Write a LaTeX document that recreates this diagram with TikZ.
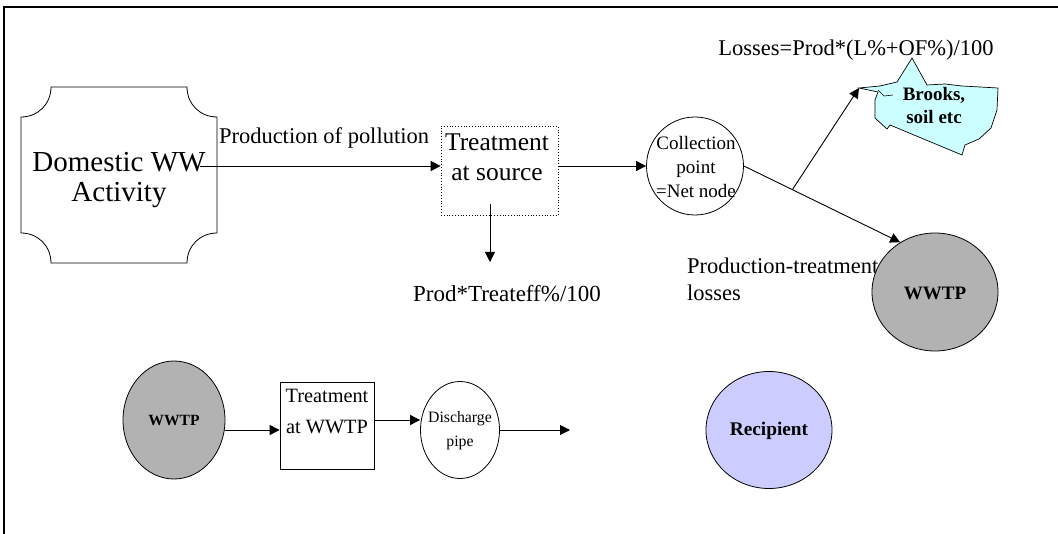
\documentclass[tikz,border=0pt]{standalone}
\usepackage{fontspec}
\setmainfont{Liberation Serif}
\usetikzlibrary{arrows.meta,shapes.geometric,calc}
\definecolor{wwgray}{HTML}{B2B2B2}
\definecolor{recblue}{HTML}{CCCCFF}
\definecolor{brookcyan}{HTML}{CCFFFF}
\newcommand{\fs}[2]{\fontsize{#1}{#2}\selectfont}
\tikzset{
  arr/.style={-{Triangle[length=10pt,width=10pt]}, line width=0.9pt},
  txt/.style={inner sep=0pt, align=center},
  ell/.style={ellipse, draw, line width=0.8pt, inner sep=0pt},
  box/.style={rectangle, draw, line width=0.8pt, inner sep=0pt},
}
\begin{document}
\begin{tikzpicture}[x=1pt,y=-1pt]
\useasboundingbox (0,0) rectangle (1058,534);
% frame
\draw[line width=2pt] (4,534) -- (4,7) -- (1058,7);

% Domestic WW Activity plaque
\draw[line width=0.8pt] (51,87) -- (187,87) .. controls (187,104) and (200,117) .. (217,117)
  -- (217,233) .. controls (200,233) and (187,246) .. (187,263)
  -- (51,263) .. controls (51,246) and (38,233) .. (21,233)
  -- (21,117) .. controls (38,117) and (51,104) .. (51,87) -- cycle;
\node[txt, font=\fs{29}{30}] (dom) at (119,180) {Domestic WW\\Activity};
\coordinate (p1) at (200,166);

% Treatment at source
\node[box, dotted, line width=0.7pt, minimum width=117pt, minimum height=89pt] (ts) at (499.5,170.5) {};
\node[txt, font=\fs{25.5}{30}] (tstext) at (497,157) {Treatment\\at source};
\draw[arr] (p1) -- (p1 -| ts.west);
\node[txt, font=\fs{22.5}{26}, anchor=south] (pp) at (324,148) {Production of pollution};

% treatment efficiency output
\coordinate (treff) at (490,262);
\draw[arr] ([xshift=-9.5pt,yshift=11pt]ts.south) -- (treff);
\node[txt, font=\fs{23}{26}] (treflbl) at (507,294) {Prod*Treateff\%/100};

% Collection point
\node[ell, minimum width=97pt, minimum height=98pt] (col) at (695,166) {};
\node[txt, font=\fs{19}{24}] (coltext) at (696,167) {Collection\\point\\=Net node};
\draw[arr] (ts.east |- col.west) -- (col.west);

% Production-treatment losses label (under WWTP)
\node[txt, font=\fs{22.5}{27}, align=left, anchor=west] (ptl) at (687,279) {Production-treatment\\losses};

% WWTP top right
\node[ell, fill=wwgray, minimum width=126pt, minimum height=118pt] (w1) at (935,292) {};
\node[txt, font=\bfseries\fs{19}{22}] (w1text) at (935,293) {WWTP};
\draw[arr] (col.east) -- (w1.125);

% Brooks, soil etc
\draw[fill=brookcyan, line width=0.7pt] (859,88) -- (880,86) -- (897,82) -- (912,58) -- (927,85)
  -- (945,84) -- (962,86) -- (998,88) -- (997,110) -- (991,128) -- (979,139) -- (965,145)
  -- (962,155) -- (890,125) -- (887,129) -- (875,118) -- (875,100) -- (878,92) -- cycle;
\draw[line width=0.6pt] (878,90) -- (884,96) -- (893,95);
\coordinate (bktip) at (859,88);
\node[txt, font=\bfseries\fs{19}{23}] (brk) at (934,106) {Brooks,\\soil etc};
\coordinate (split) at ($(col.east)!0.31!(w1.125)$);
\draw[arr] (split) -- (bktip);
\node[txt, font=\fs{22.5}{26}] (loss) at (856,50) {Losses=Prod*(L\%+OF\%)/100};

% bottom row
\node[ell, fill=wwgray, minimum width=102pt, minimum height=118pt] (w2) at (174,420) {};
\node[txt, font=\bfseries\fs{15.6}{19}] (w2text) at (174,421) {WWTP};
\node[box, minimum width=94pt, minimum height=87pt] (tw) at (327,425.5) {};
\node[txt, font=\fs{20.3}{31}] (twtext) at (327,412) {Treatment\\at WWTP};
\draw[arr] (w2.east |- 0,430) -- (tw.west |- 0,430);
\node[ell, minimum width=79pt, minimum height=97pt] (dc) at (460,430) {};
\node[txt, font=\fs{15.8}{24}] (dctext) at (460,431) {Discharge\\pipe};
\draw[arr] (tw.east |- 0,420) -- (dc.west |- 0,420);
\node[ell, fill=recblue, minimum width=126pt, minimum height=117pt] (rc) at (769,430) {};
\node[txt, font=\bfseries\fs{19.3}{22}] (rctext) at (769,431) {Recipient};
\coordinate (rc0) at (570,430);
\draw[arr] (dc.east) -- (rc0);
\end{tikzpicture}
\end{document}
